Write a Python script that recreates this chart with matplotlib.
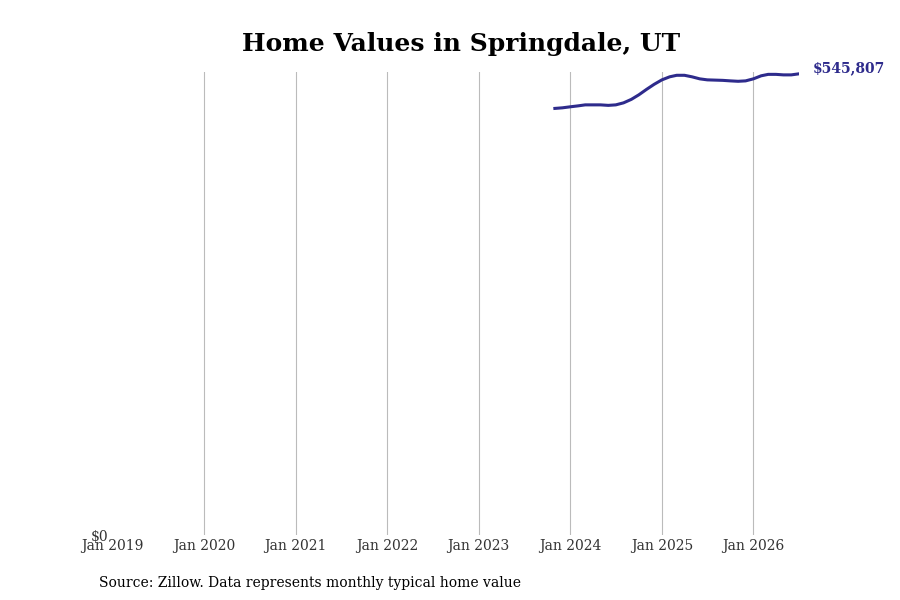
import matplotlib
matplotlib.use('Agg')
import matplotlib.pyplot as plt
import matplotlib.dates as mdates
import pandas as pd

plt.rcParams['font.family'] = ['DejaVu Serif']

# monthly typical home value, Nov 2023 - Jul 2026
months = pd.date_range('2023-11-01', '2026-07-01', freq='MS')
values = [504900, 505600, 506800, 507900, 509100, 509100, 509100, 508500,
          509100, 511500, 515600, 521000, 527500, 533400, 538700, 542300,
          544100, 544100, 542300, 539900, 538700, 538400, 538100, 537500,
          537000, 537500, 539900, 543500, 545200, 545200, 544600, 544600,
          545807]
tick_years = list(range(2019, 2027))
line_color = '#2e2b8c'

fig = plt.figure(figsize=(9, 6), dpi=100)
ax = fig.add_axes([0.1250, 0.1083, 0.7625, 0.7717])

ax.plot(months, values, color=line_color, linewidth=2.2)

ax.set_xlim(pd.Timestamp('2019-01-01'), months[-1])
ax.set_ylim(0, 548000)
ax.set_xticks([pd.Timestamp(f'{y}-01-01') for y in tick_years])
ax.xaxis.set_major_formatter(mdates.DateFormatter('%b %Y'))
ax.set_yticks([0])
ax.set_yticklabels(['$0'])
ax.tick_params(axis='both', length=0, labelsize=10, colors='#333333')
ax.tick_params(axis='x', pad=3)
ax.tick_params(axis='y', pad=3)

ax.grid(axis='x', color='#bbbbbb', linewidth=0.8)
ax.get_xgridlines()[0].set_visible(False)
ax.set_axisbelow(True)
for s in ax.spines.values():
    s.set_visible(False)

ax.annotate('${:,}'.format(values[-1]), xy=(months[-1], values[-1]),
            xytext=(10, 4), textcoords='offset points',
            color=line_color, fontsize=10, fontweight='bold', va='center')

fig.suptitle('Home Values in Springdale, UT', fontsize=18, fontweight='bold', y=0.947, x=0.512)
fig.text(0.11, 0.022, 'Source: Zillow. Data represents monthly typical home value',
         fontsize=10, color='black')

fig.savefig('out.png', dpi=100)
